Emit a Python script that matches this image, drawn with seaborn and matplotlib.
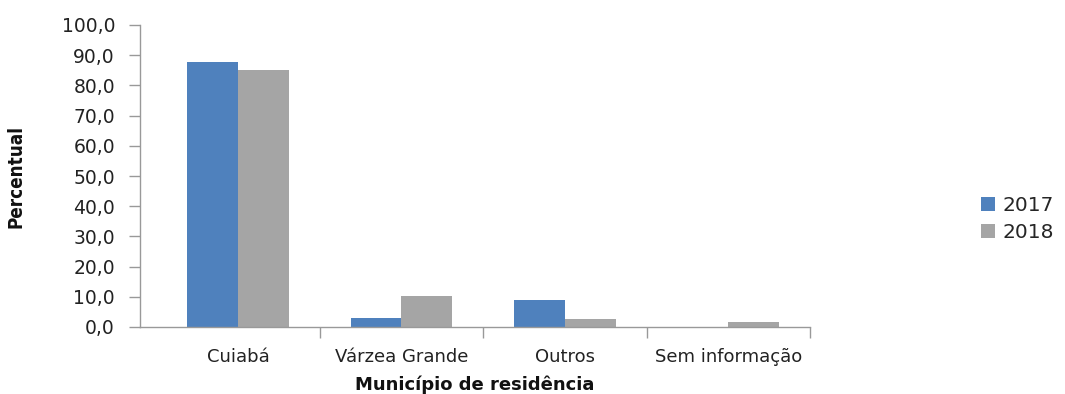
import matplotlib
matplotlib.use("Agg")
import matplotlib.pyplot as plt
import seaborn as sns
import pandas as pd
import numpy as np
from matplotlib.ticker import FixedLocator, FuncFormatter

municipios = ["Cuiabá", "Várzea Grande", "Outros", "Sem informação"]
anos = ["2017", "2018"]
valores_2017 = [87.7, 3.1, 8.8, 0.0]
valores_2018 = [85.1, 10.2, 2.8, 1.8]
cores = ["#4F81BD", "#A5A5A5"]

df = pd.DataFrame({
    "Município": municipios * 2,
    "Ano": [anos[0]] * 4 + [anos[1]] * 4,
    "Percentual": valores_2017 + valores_2018,
})

sns.set_theme(style="white")
plt.rcParams["font.family"] = ["DejaVu Sans"]

fig = plt.figure(figsize=(10.65, 3.94), dpi=100)
ax = fig.add_axes([140 / 1065, 1 - 327 / 394, (810 - 140) / 1065, (327 - 25) / 394])

sns.barplot(data=df, x="Município", y="Percentual", hue="Ano",
            palette=cores, width=0.62, saturation=1, ax=ax, linewidth=0, legend=True)

ax.set_ylim(0, 100)
ax.set_xlim(-0.6, 3.5)
ax.set_yticks(np.arange(0, 101, 10))
ax.yaxis.set_major_formatter(FuncFormatter(lambda v, p: f"{v:.1f}".replace(".", ",")))
ax.tick_params(axis="y", which="major", length=8, width=1, color="#999999",
               labelsize=13.5, labelcolor="#222222", left=True, direction="out", pad=10)
ax.tick_params(axis="x", which="major", length=0, labelsize=13, labelcolor="#222222", pad=15)
ax.xaxis.set_minor_locator(FixedLocator(np.arange(0.5, 4.0, 1.0)))
ax.tick_params(axis="x", which="minor", length=8, width=1, color="#999999",
               bottom=True, direction="out")

for side in ["top", "right"]:
    ax.spines[side].set_visible(False)
for side in ["left", "bottom"]:
    ax.spines[side].set_color("#999999")
    ax.spines[side].set_linewidth(1)

ax.set_ylabel("Percentual", fontsize=13.5, fontweight="bold", fontstretch="condensed",
              color="#111111", labelpad=26)
ax.set_xlabel("Município de residência", fontsize=13, fontweight="bold",
              color="#111111", labelpad=7)

handles, labels = ax.get_legend_handles_labels()
ax.get_legend().remove()
fig.legend(handles, labels, loc="center left", bbox_to_anchor=(981 / 1065, 1 - 219 / 394),
           frameon=False, fontsize=14.5, handlelength=0.7, handleheight=0.7,
           handletextpad=0.35, labelspacing=0.4, borderaxespad=0, borderpad=0)

fig.savefig("out.png", dpi=100)
